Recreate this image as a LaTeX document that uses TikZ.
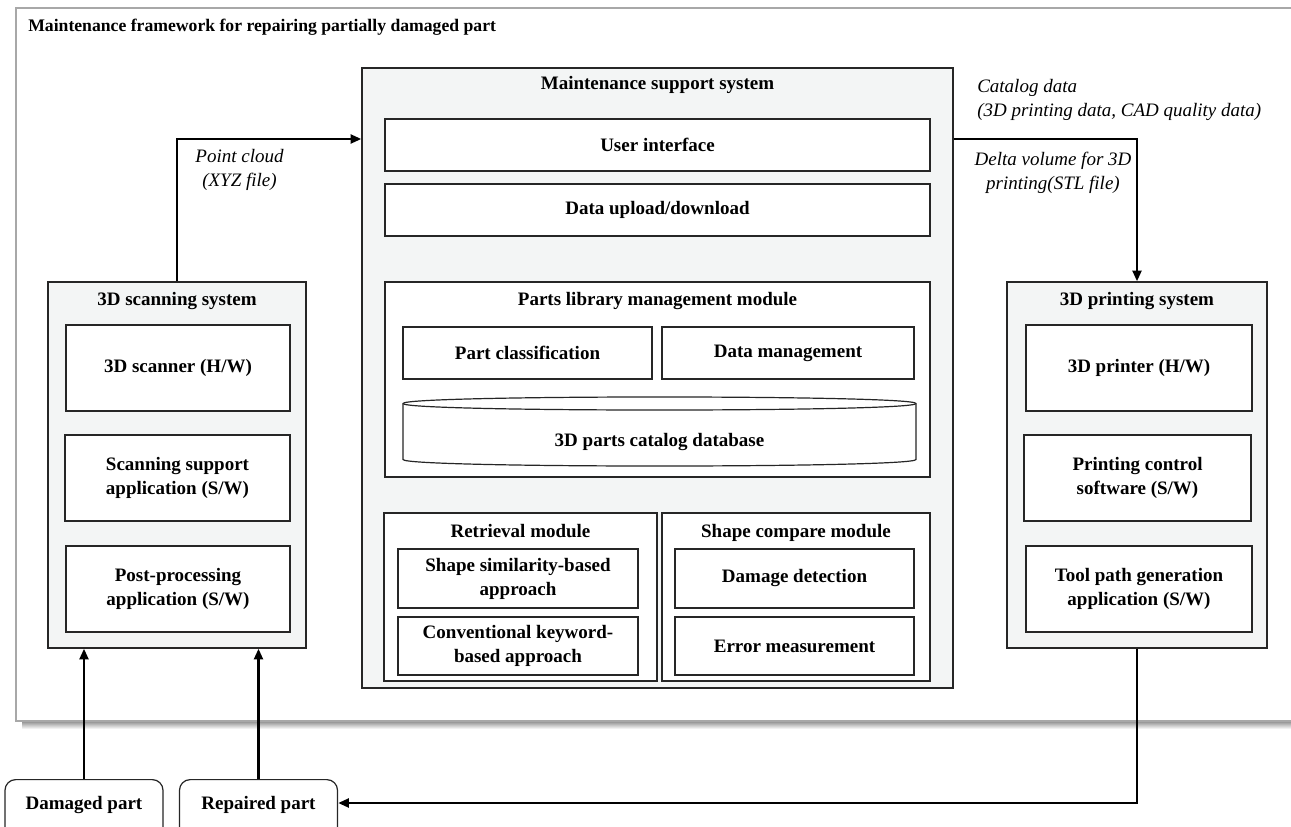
\documentclass[tikz,border=0pt]{standalone}
\usepackage{fontspec}
\setmainfont{Liberation Serif}
\usetikzlibrary{arrows.meta}

\newlength\upx
\setlength\upx{0.75pt}

\definecolor{sysfill}{HTML}{F3F5F5}
\definecolor{edge}{HTML}{262626}
\definecolor{framegray}{HTML}{A8A8A8}

\begin{document}
\begin{tikzpicture}[x=0.75pt,y=-0.75pt,
  every node/.style={font=\fontsize{14.25}{18}\selectfont\bfseries, inner sep=0pt},
  sz/.style args={#1x#2}{minimum width=#1\upx, minimum height=#2\upx},
  sysbox/.style={draw=edge, line width=0.9pt, fill=sysfill},
  modbox/.style={draw=edge, line width=0.9pt, fill=white},
  subbox/.style={draw=edge, line width=0.9pt, fill=white, align=center},
  lbl/.style={font=\fontsize{14.25}{18}\selectfont\itshape},
  arr/.style={line width=2pt, -{Triangle[length=8pt,width=6.5pt]}},
  partbox/.style={draw=edge, line width=0.9pt, rounded corners=8pt, fill=white,
    minimum width=158\upx, anchor=north, text height=30\upx, text depth=50\upx}
]
\useasboundingbox (0,0) rectangle (1291,827);

% outer framework frame with a soft shadow under its lower edge
\fill[top color=black!45, bottom color=white] (22,721) rectangle (1300,729);
\fill[white] (16,8) rectangle (1300,721);
\draw[framegray, line width=1.1pt] (1300,8) -- (16,8) -- (16,721) -- (1300,721);
\node (ttl) [anchor=base west, font=\fontsize{13.25}{16}\selectfont\bfseries] at (28,32)
  {Maintenance framework for repairing partially damaged part};

% 3D scanning system
\node (scan) [sysbox, sz=258x366] at (177,465) {};
\node (scant) [anchor=base] at (scan.north |- 0,305.5) {3D scanning system};
\node (scanner) [subbox, sz=224x86] at (178,368) {3D scanner (H/W)};
\node (ssup) [subbox, sz=225x86] at (177.5,478) {Scanning support\\application (S/W)};
\node (post) [subbox, sz=224x86] at (178,589) {Post-processing\\application (S/W)};

% 3D printing system
\node (print) [sysbox, sz=260x366] at (1137,465) {};
\node (printt) [anchor=base] at (print.north |- 0,305.5) {3D printing system};
\node (printer) [subbox, sz=226x86] at (1139,368) {3D printer (H/W)};
\node (pctrl) [subbox, sz=227x86] at (1137.5,478) {Printing control\\software (S/W)};
\node (tpath) [subbox, sz=226x86] at (1139,589) {Tool path generation\\application (S/W)};

% maintenance support system
\node (main) [sysbox, sz=591x620] at (657.5,378) {};
\node (maint) [anchor=base] at (main.north |- 0,90) {Maintenance support system};
\node (ui) [subbox, sz=545x52] at (657.5,145) {User interface};
\node (dud) [subbox, sz=545x52] at (657.5,210) {Data upload/download};

% parts library management module
\node (plib) [modbox, sz=545x195] at (657.5,379.5) {};
\node (plibt) [anchor=base] at (plib.north |- 0,305) {Parts library management module};
\node (pclass) [subbox, sz=249x52] at (527.5,353) {Part classification};
\node (dmgmt) [subbox, sz=252x52] at (788,353) {Data management};
\draw[edge, line width=0.9pt, fill=white]
  (403,403.5) .. controls (403,394.8) and (916,394.8) .. (916,403.5)
  -- (916,459.5) .. controls (916,468.2) and (403,468.2) .. (403,459.5) -- cycle;
\draw[edge, line width=0.9pt]
  (403,403.5) .. controls (403,412.2) and (916,412.2) .. (916,403.5);
\node (db) at (659.5,442) {3D parts catalog database};

% retrieval module
\node (retr) [modbox, sz=273x168] at (520.5,597) {};
\node (retrt) [anchor=base] at (retr.north |- 0,537) {Retrieval module};
\node (ssim) [subbox, sz=240x59] at (518,578.5) {Shape similarity-based\\approach};
\node (conv) [subbox, sz=240x58] at (518,646) {Conventional keyword-\\based approach};

% shape compare module
\node (shc) [modbox, sz=268x168] at (796,597) {};
\node (shct) [anchor=base] at (shc.north |- 0,537) {Shape compare module};
\node (ddet) [subbox, sz=239x59] at (794.5,578.5) {Damage detection};
\node (errm) [subbox, sz=239x58] at (794.5,646) {Error measurement};

% physical parts
\node (dmg) [partbox] at (84,779) {Damaged part};
\node (rep) [partbox] at (258.5,779) {Repaired part};

% data flow
\coordinate (flowy) at (0,139);
\coordinate (backy) at (0,803);
\draw[arr] (scan.north) |- (main.west |- flowy);
\draw[arr] (main.east |- flowy) -| (print.north);
\draw[arr] (print.south) |- (rep.east |- backy);
\draw[arr] (dmg.north) -- (dmg.north |- scan.south);
\draw[arr] (rep.north) -- (rep.north |- scan.south);

% flow labels
\node (pcl) [lbl, align=center] at (239.5,170) {Point cloud\\(XYZ file)};
\node (catl) [lbl, align=left, anchor=west] at (977,100) {Catalog data\\(3D printing data, CAD quality data)};
\node (dvl) [lbl, align=center] at (1053,173) {Delta volume for 3D\\printing(STL file)};
\end{tikzpicture}
\end{document}
